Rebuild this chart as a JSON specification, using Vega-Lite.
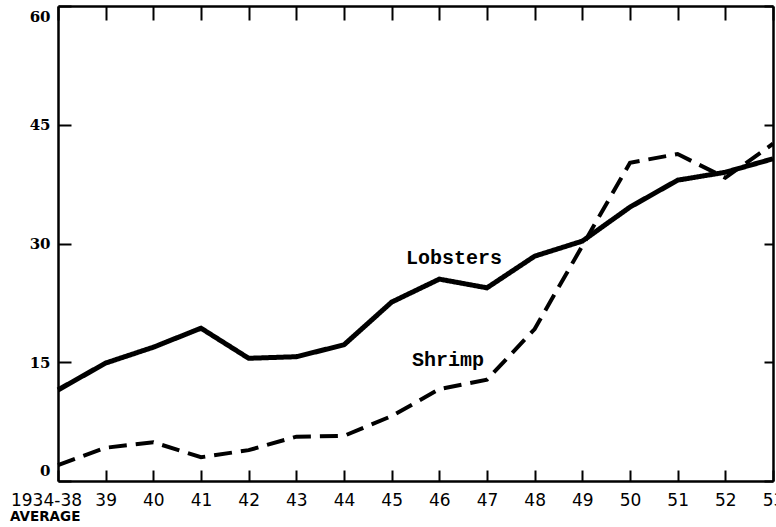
{
  "$schema": "https://vega.github.io/schema/vega-lite/v6.json",
  "width": 715,
  "height": 475,
  "autosize": {"type": "none"},
  "padding": {"left": 58, "top": 6, "right": 3, "bottom": 46},
  "background": "white",
  "config": {
    "view": {"stroke": null},
    "axis": {"domainColor": "black", "domainWidth": 2.5, "tickColor": "black", "tickWidth": 2, "grid": false, "labelColor": "black"}
  },
  "datasets": {
    "series": [
      {"year": 38, "species": "Lobsters", "value": 11.5},
      {"year": 39, "species": "Lobsters", "value": 14.9},
      {"year": 40, "species": "Lobsters", "value": 16.9},
      {"year": 41, "species": "Lobsters", "value": 19.3},
      {"year": 42, "species": "Lobsters", "value": 15.5},
      {"year": 43, "species": "Lobsters", "value": 15.7},
      {"year": 44, "species": "Lobsters", "value": 17.2},
      {"year": 45, "species": "Lobsters", "value": 22.6},
      {"year": 46, "species": "Lobsters", "value": 25.5},
      {"year": 47, "species": "Lobsters", "value": 24.4},
      {"year": 48, "species": "Lobsters", "value": 28.4},
      {"year": 49, "species": "Lobsters", "value": 30.3},
      {"year": 50, "species": "Lobsters", "value": 34.6},
      {"year": 51, "species": "Lobsters", "value": 38.0},
      {"year": 52, "species": "Lobsters", "value": 39.0},
      {"year": 53, "species": "Lobsters", "value": 40.7},
      {"year": 38, "species": "Shrimp", "value": 2.0},
      {"year": 39, "species": "Shrimp", "value": 4.2},
      {"year": 40, "species": "Shrimp", "value": 4.9},
      {"year": 41, "species": "Shrimp", "value": 3.0},
      {"year": 42, "species": "Shrimp", "value": 3.9},
      {"year": 43, "species": "Shrimp", "value": 5.6},
      {"year": 44, "species": "Shrimp", "value": 5.7},
      {"year": 45, "species": "Shrimp", "value": 8.2},
      {"year": 46, "species": "Shrimp", "value": 11.6},
      {"year": 47, "species": "Shrimp", "value": 12.8},
      {"year": 48, "species": "Shrimp", "value": 19.2},
      {"year": 49, "species": "Shrimp", "value": 29.7},
      {"year": 50, "species": "Shrimp", "value": 40.2},
      {"year": 51, "species": "Shrimp", "value": 41.3},
      {"year": 52, "species": "Shrimp", "value": 38.3},
      {"year": 53, "species": "Shrimp", "value": 42.6}
    ],
    "labels": [
      {"lx": 46.31, "ly": 28.2, "label": "Lobsters"},
      {"lx": 46.18, "ly": 15.3, "label": "Shrimp"}
    ],
    "note": [
      {"nx": 38, "ny": 0, "label": "AVERAGE"}
    ]
  },
  "layer": [
    {
      "data": {"name": "series"},
      "mark": {"type": "line", "strokeCap": "butt", "strokeJoin": "miter", "color": "black"},
      "encoding": {
        "x": {
          "field": "year", "type": "quantitative",
          "scale": {"domain": [38, 53], "nice": false, "zero": false},
          "axis": {
            "orient": "bottom", "title": null,
            "values": [38, 39, 40, 41, 42, 43, 44, 45, 46, 47, 48, 49, 50, 51, 52, 53],
            "tickSize": -11,
            "labelExpr": "datum.value == 38 ? '1934-38' : format(datum.value, 'd')",
            "labelFont": "DejaVu Sans", "labelFontSize": 17,
            "labelPadding": 22,
            "labelFlush": false,
            "labelOverlap": false,
            "labelOffset": {"condition": {"test": "datum.value == 38", "value": -12}, "value": 0}
          }
        },
        "y": {
          "field": "value", "type": "quantitative",
          "scale": {"domain": [0, 60], "nice": false},
          "axis": {
            "orient": "left", "title": null,
            "values": [0, 15, 30, 45, 60],
            "tickSize": -13,
            "labelFont": "DejaVu Serif", "labelFontWeight": "bold", "labelFontSize": 15,
            "labelFlush": true,
            "labelFlushOffset": -3,
            "labelPadding": 21
          }
        },
        "strokeDash": {"field": "species", "type": "nominal", "scale": {"domain": ["Lobsters", "Shrimp"], "range": [[1, 0], [18, 9]]}, "legend": null},
        "strokeWidth": {"field": "species", "type": "nominal", "scale": {"domain": ["Lobsters", "Shrimp"], "range": [5, 4]}, "legend": null}
      }
    },
    {
      "data": {"name": "labels"},
      "mark": {"type": "text", "font": "Liberation Mono", "fontWeight": "bold", "fontSize": 20, "color": "black", "align": "center", "baseline": "middle"},
      "encoding": {
        "x": {
          "field": "lx", "type": "quantitative",
          "axis": {
            "orient": "top", "title": null, "labels": false,
            "values": [38, 39, 40, 41, 42, 43, 44, 45, 46, 47, 48, 49, 50, 51, 52, 53],
            "tickSize": -14
          }
        },
        "y": {
          "field": "ly", "type": "quantitative",
          "axis": {
            "orient": "right", "title": null, "labels": false,
            "values": [0, 15, 30, 45, 60],
            "tickSize": -9
          }
        },
        "text": {"field": "label"}
      }
    },
    {
      "data": {"name": "note"},
      "mark": {"type": "text", "font": "DejaVu Sans", "fontWeight": "bold", "fontSize": 13.5, "color": "black", "align": "left", "baseline": "middle", "dx": -48, "dy": 36},
      "encoding": {
        "x": {"field": "nx", "type": "quantitative", "axis": null},
        "y": {"field": "ny", "type": "quantitative", "axis": null},
        "text": {"field": "label"}
      }
    }
  ],
  "resolve": {"axis": {"x": "independent", "y": "independent"}}
}
